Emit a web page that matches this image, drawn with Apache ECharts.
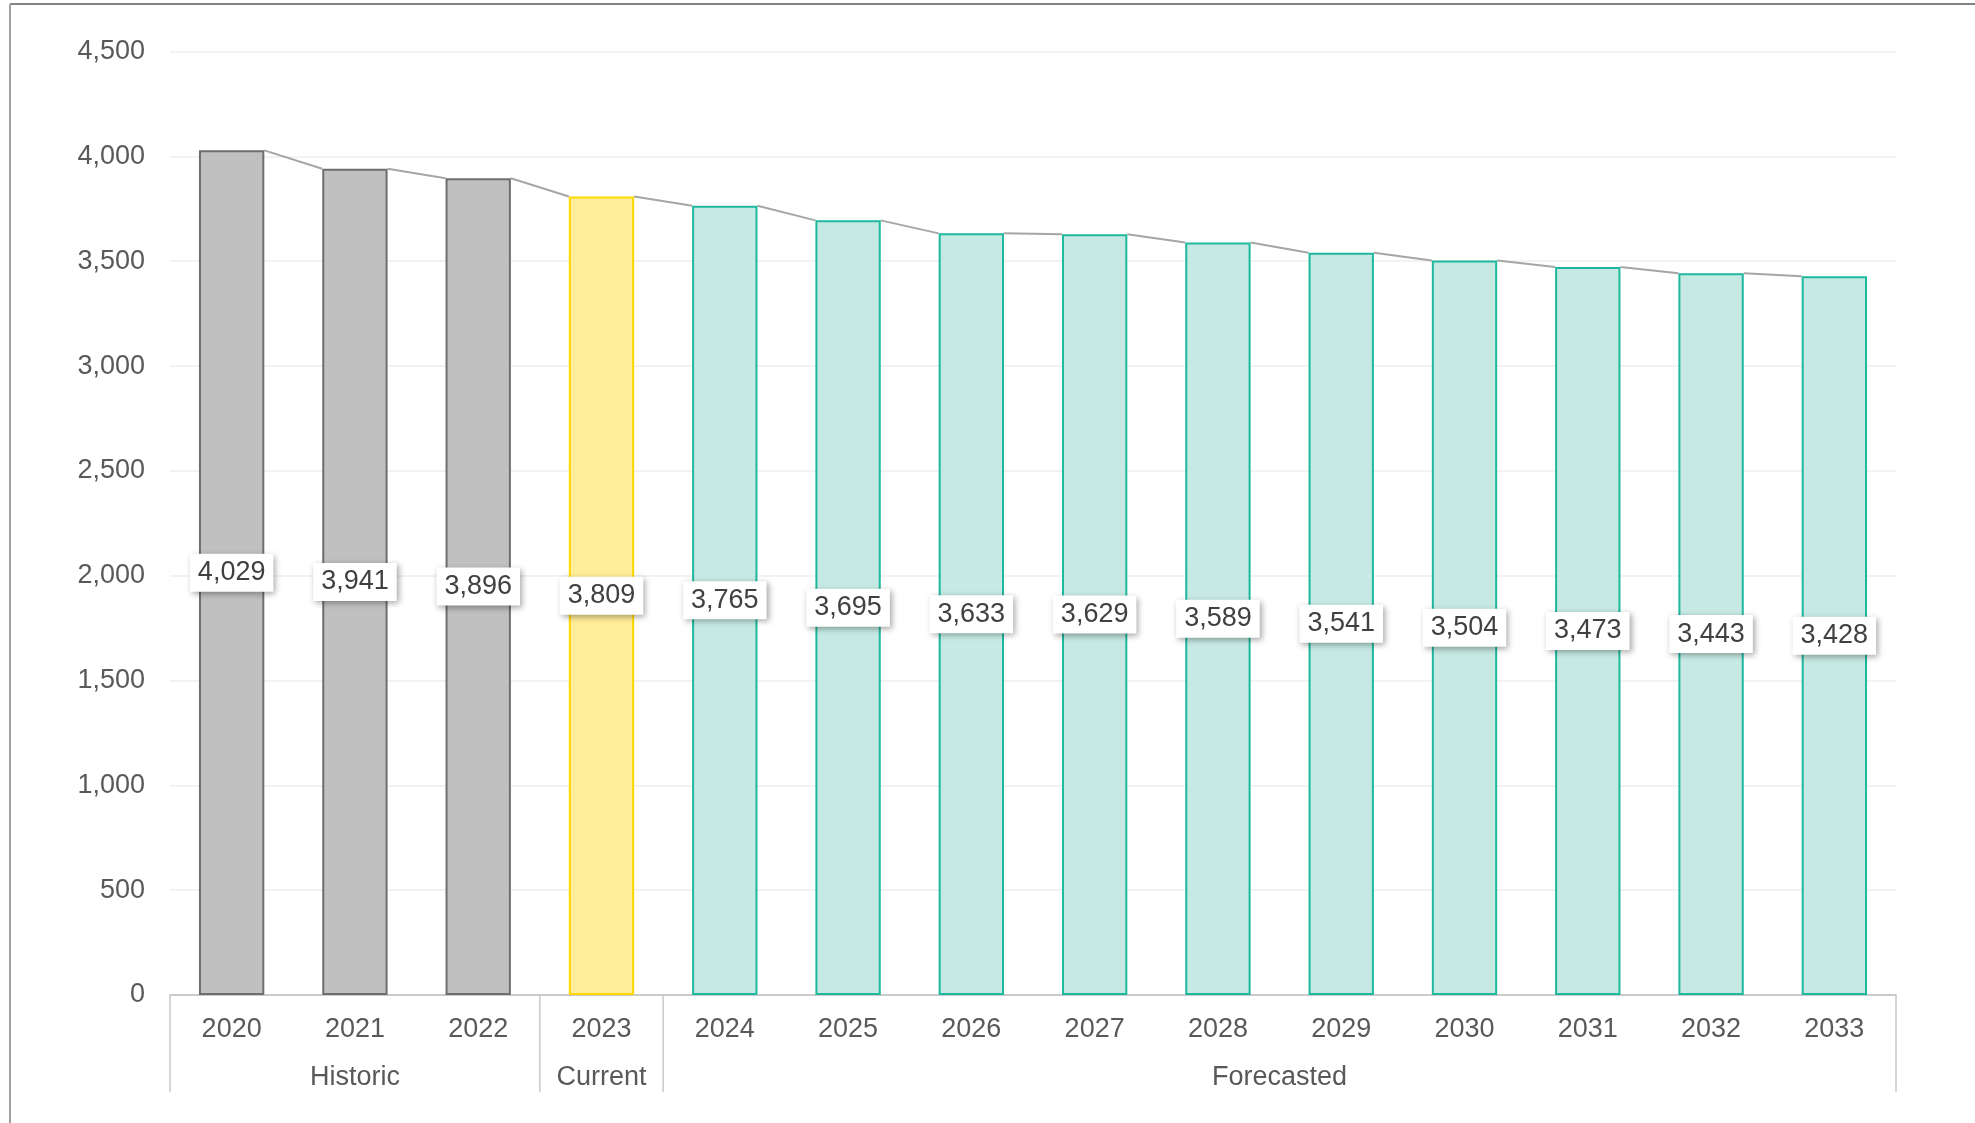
<!DOCTYPE html>
<html>
<head>
<meta charset="utf-8">
<script src="https://cdn.jsdelivr.net/npm/echarts@6/dist/echarts.min.js"></script>
<style>
html,body{margin:0;padding:0;background:#fff;}
#main{width:1975px;height:1123px;}
</style>
</head>
<body>
<div id="main"></div>
<script>
var categories = ['2020','2021','2022','2023','2024','2025','2026','2027','2028','2029','2030','2031','2032','2033'];
var values = [4029,3941,3896,3809,3765,3695,3633,3629,3589,3541,3504,3473,3443,3428];
var groupNames = ['Historic','Current','Forecasted'];
var groupSpans = [3,1,10];
var yTicks = [0,500,1000,1500,2000,2500,3000,3500,4000,4500];

var groupStyles = [
  {color:'#C0C0C0', borderColor:'#6E6E6E'},
  {color:'#FFED99', borderColor:'#FFD700'},
  {color:'#C6EAE3', borderColor:'#1DB89D'}
];
var FONT = "'Liberation Sans', Arial, sans-serif";
var BAR_RATIO = 0.53;

var itemGroup = [];
groupSpans.forEach(function(s, g){ for (var k=0;k<s;k++) itemGroup.push(g); });

var barData = values.map(function(v,i){
  var st = groupStyles[itemGroup[i]];
  return {value:v, itemStyle:{color:st.color, borderColor:st.borderColor, borderWidth:2}};
});
var lineData = [];
for (var i=0;i<values.length-1;i++) lineData.push([i, values[i], values[i+1]]);

var chart = echarts.init(document.getElementById('main'));
chart.setOption({
  animation:false,
  backgroundColor:'#fff',
  grid:{left:170, right:79, top:51.6, bottom:128, containLabel:false},
  xAxis:{
    type:'category', data:categories,
    axisLine:{lineStyle:{color:'#BFBFBF', width:1.5}},
    axisTick:{show:false},
    axisLabel:{color:'#595959', fontSize:27, fontFamily:FONT, margin:21}
  },
  yAxis:{
    type:'value', min:yTicks[0], max:yTicks[yTicks.length-1], interval:500,
    axisLine:{show:false}, axisTick:{show:false},
    axisLabel:{color:'#595959', fontSize:27, fontFamily:FONT, margin:25,
      formatter:function(v){return v.toLocaleString('en-US');}},
    splitLine:{lineStyle:{color:'#EEEEEE', width:1.5}}
  },
  series:[
    {
      type:'custom', z:1, data:lineData, encode:{x:0,y:1}, silent:true,
      renderItem:function(params, api){
        var p0 = api.coord([api.value(0), api.value(1)]);
        var p1 = api.coord([api.value(0)+1, api.value(2)]);
        var half = api.size([1,0])[0]*BAR_RATIO/2;
        return {type:'line', shape:{x1:p0[0]+half, y1:p0[1], x2:p1[0]-half, y2:p1[1]},
          style:{stroke:'#A6A6A6', lineWidth:2}};
      }
    },
    {
      type:'bar', z:2, data:barData, barWidth:(BAR_RATIO*100)+'%',
      label:{
        show:true, position:'inside', color:'#404040', fontSize:27, fontFamily:FONT,
        formatter:function(p){return p.value.toLocaleString('en-US');},
        backgroundColor:'#FFFFFF', padding:[5,8,3,8], lineHeight:30,
        shadowColor:'rgba(0,0,0,0.35)', shadowBlur:6, shadowOffsetX:2, shadowOffsetY:2
      }
    }
  ]
});

function drawGroups(){
  var c0 = chart.convertToPixel({xAxisIndex:0}, 0);
  var c1 = chart.convertToPixel({xAxisIndex:0}, 1);
  var band = c1 - c0;
  var axisY = chart.convertToPixel({yAxisIndex:0}, 0);
  var elems = [];
  var start = 0;
  var bounds = [];
  groupSpans.forEach(function(s, g){
    var left = chart.convertToPixel({xAxisIndex:0}, start) - band/2;
    var right = chart.convertToPixel({xAxisIndex:0}, start+s-1) + band/2;
    bounds.push(left);
    if (g === groupSpans.length-1) bounds.push(right);
    elems.push({type:'text', x:(left+right)/2, y:axisY+83,
      style:{text:groupNames[g], fill:'#595959', font:'27px '+FONT, textAlign:'center', textVerticalAlign:'middle'}});
    start += s;
  });
  bounds.forEach(function(x){
    elems.push({type:'line', shape:{x1:x, y1:axisY, x2:x, y2:axisY+97},
      style:{stroke:'#C8C8C8', lineWidth:1.5}});
  });
  elems.push({type:'line', shape:{x1:10, y1:4, x2:1975, y2:4}, style:{stroke:'#595959', lineWidth:1.5}});
  elems.push({type:'line', shape:{x1:10, y1:4, x2:10, y2:1123}, style:{stroke:'#A0A0A0', lineWidth:2}});
  chart.setOption({graphic:{elements:elems}});
}
drawGroups();
</script>
</body>
</html>
